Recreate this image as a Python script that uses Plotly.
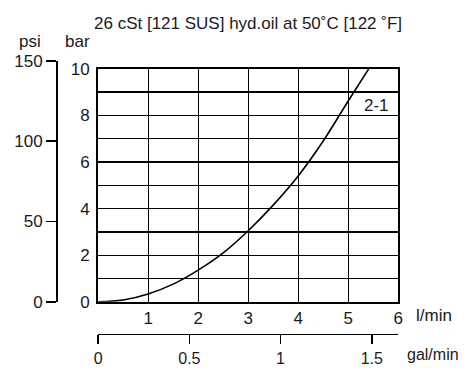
import plotly.graph_objects as go

# Data
flow_lpm = [0, 0.5, 1, 1.5, 2, 2.5, 3, 3.5, 4, 4.5, 5, 5.41]
pressure_bar = [0, 0.08, 0.34, 0.76, 1.36, 2.1, 3.05, 4.15, 5.4, 6.9, 8.62, 10]
x_ticks = [1, 2, 3, 4, 5, 6]
bar_ticks = [0, 2, 4, 6, 8, 10]
bar_minor = [1, 3, 5, 7, 9]
psi_ticks = [0, 50, 100, 150]
gal_ticks = [0, 0.5, 1, 1.5]
gal_labels = ["0", "0.5", "1", "1.5"]
curve_name = "2-1"
title_text = "26 cSt [121 SUS] hyd.oil at 50˚C [122 ˚F]"

W, H = 466, 374
ML, MR, MT, MB = 2, 2, 30, 2
PW, PH = W - ML - MR, H - MT - MB

def fx(px):
    return (px - ML) / PW

def fy(py):
    return (H - MB - py) / PH

x0, x1 = 96, 402
y0, y1 = 310, 70

FONT = "Liberation Sans, Arial"
fs = 17
col = "#1a1a1a"
GW = 1.3

fig = go.Figure()
fig.add_trace(go.Scatter(x=flow_lpm, y=pressure_bar, mode="lines",
                         line=dict(color="black", width=1.6, shape="spline", smoothing=1),
                         xaxis="x", yaxis="y", showlegend=False, hoverinfo="skip"))
fig.add_trace(go.Scatter(x=[None], y=[None], xaxis="x2", yaxis="y2", showlegend=False))

fig.update_layout(
    width=W, height=H, autosize=False,
    margin=dict(l=ML, r=MR, t=MT, b=MB, pad=0),
    paper_bgcolor="white", plot_bgcolor="rgba(0,0,0,0)",
    font=dict(family=FONT, size=fs, color=col),
    xaxis=dict(domain=[fx(x0), fx(x1)], range=[0, 6], tickvals=x_ticks,
               showgrid=True, gridcolor="black", gridwidth=GW,
               showline=True, mirror=True, linecolor="black", linewidth=2,
               zeroline=False, ticks="",
               anchor="y", fixedrange=True),
    yaxis=dict(domain=[fy(y0), fy(y1)], range=[0, 10], tickvals=bar_ticks,
               showgrid=True, gridcolor="black", gridwidth=GW,
               minor=dict(tickvals=bar_minor, showgrid=True, gridcolor="black", gridwidth=GW, ticks=""),
               showline=True, mirror=True, linecolor="black", linewidth=2,
               zeroline=False, ticks="outside", ticklen=3, tickcolor="rgba(0,0,0,0)",
               anchor="x", fixedrange=True),
    xaxis2=dict(domain=[fx(x0), fx(x1)], range=[0, 1.645], tickvals=gal_ticks, ticktext=gal_labels,
                anchor="free", position=fy(343), showgrid=False, zeroline=False,
                showline=True, linecolor="black", linewidth=1.5, tickfont=dict(size=16),
                ticks="outside", ticklen=9, tickwidth=1.5, tickcolor="black", fixedrange=True),
    yaxis2=dict(domain=[fy(y0), fy(y0 - 150 / 14.5038 * (y0 - y1) / 10)], range=[0, 150],
                tickvals=psi_ticks, anchor="free", position=fx(53), side="left",
                showgrid=False, zeroline=False, showline=True, linecolor="black", linewidth=1.5,
                ticks="outside", ticklen=10, tickwidth=1.5, tickcolor="black", fixedrange=True),
)

ann = dict(xref="paper", yref="paper", showarrow=False, font=dict(family=FONT, size=fs, color=col))
fig.add_annotation(text=title_text, x=fx(90), y=fy(23), xanchor="left", yanchor="middle", **ann)
fig.add_annotation(text="psi", x=fx(26), y=fy(42), xanchor="center", yanchor="middle", **ann)
fig.add_annotation(text="bar", x=fx(75), y=fy(42), xanchor="center", yanchor="middle", **ann)
fig.add_annotation(text="l/min", x=fx(418), y=fy(324.5), xanchor="left", yanchor="middle", **ann)
fig.add_annotation(text="gal/min", x=fx(409), y=fy(364.5), xanchor="left", yanchor="middle",
                   xref="paper", yref="paper", showarrow=False, font=dict(family=FONT, size=16, color=col))
fig.add_annotation(text=curve_name, x=5.57, y=8.42, xref="x", yref="y", showarrow=False,
                   xanchor="center", yanchor="middle", font=dict(family=FONT, size=fs, color=col))

post = ("var gd=document.getElementById('{plot_id}');"
        "gd.style.position='fixed';gd.style.top='0px';gd.style.left='0px';"
        "document.body.style.margin='0';")
fig.write_html("out.html", config={"displayModeBar": False, "staticPlot": True}, post_script=post)
